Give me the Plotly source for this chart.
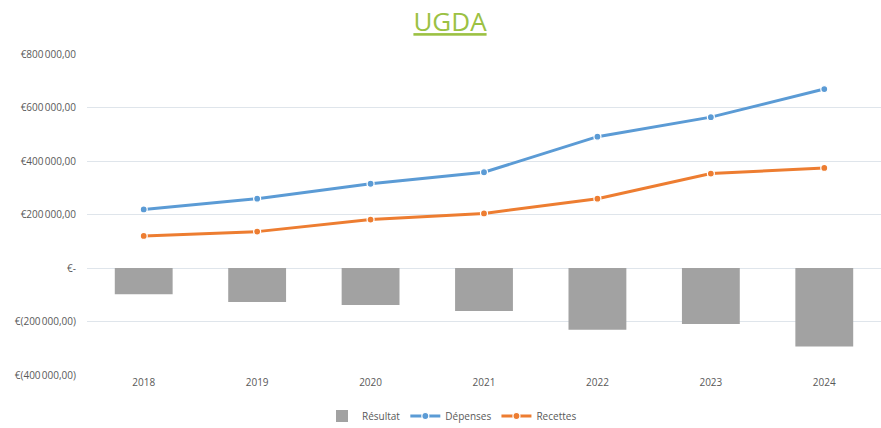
import plotly.graph_objects as go

years = ["2018", "2019", "2020", "2021", "2022", "2023", "2024"]
depenses = [219000, 259000, 315000, 358000, 491000, 564000, 669000]
recettes = [120000, 136000, 181000, 204000, 259000, 353000, 374000]
resultat = [-98000, -127000, -138000, -161000, -231000, -209000, -293000]

y_tickvals = [800000, 600000, 400000, 200000, 0, -200000, -400000]
y_ticktext = ["€800\u202f000,00", "€600\u202f000,00", "€400\u202f000,00", "€200\u202f000,00",
              "€-", "€(200\u202f000,00)", "€(400\u202f000,00)"]

font_family = "Open Sans"
txt_color = "#595959"

fig = go.Figure()
fig.add_trace(go.Bar(x=years, y=resultat, name="Résultat",
                     marker=dict(color="#A2A2A2", line=dict(width=0)),
                     width=0.51))
fig.add_trace(go.Scatter(x=years, y=depenses, name="Dépenses", mode="lines+markers",
                         line=dict(color="#5B9BD5", width=3),
                         marker=dict(size=7, color="#5B9BD5", line=dict(color="#FFFFFF", width=1.2))))
fig.add_trace(go.Scatter(x=years, y=recettes, name="Recettes", mode="lines+markers",
                         line=dict(color="#ED7D31", width=3),
                         marker=dict(size=7, color="#ED7D31", line=dict(color="#FFFFFF", width=1.2))))

fig.update_layout(
    width=881, height=428,
    margin=dict(l=87, r=0, t=54, b=53, autoexpand=False),
    paper_bgcolor="white", plot_bgcolor="white",
    title=dict(text="UGDA", xref="container", x=450 / 881, xanchor="center",
               yref="container", y=1 - 22 / 428, yanchor="middle",
               font=dict(family=font_family, size=26, color="#9BC143", lineposition="under")),
    font=dict(family=font_family, size=10, color=txt_color),
    showlegend=True,
    legend=dict(orientation="h", xref="container", x=452 / 881, xanchor="center",
                yref="container", y=1 - 416 / 428, yanchor="middle",
                font=dict(family=font_family, size=10, color=txt_color),
                itemwidth=30, tracegroupgap=0),
    bargap=0.49,
    xaxis=dict(showgrid=False, showline=False, zeroline=False, ticks="",
               tickfont=dict(size=10, color=txt_color)),
    yaxis=dict(range=[-400000, 800000], tickvals=y_tickvals, ticktext=y_ticktext,
               showgrid=True, gridcolor="#DFE5EB", gridwidth=1,
               zeroline=True, zerolinecolor="#DFE5EB", zerolinewidth=1,
               showline=False, ticks="", ticklabelstandoff=10,
               tickfont=dict(size=10, color=txt_color)),
)

fig.write_html("out.html",
               config={"displayModeBar": False},
               post_script="document.body.style.margin='0px';document.body.style.overflow='hidden';")
